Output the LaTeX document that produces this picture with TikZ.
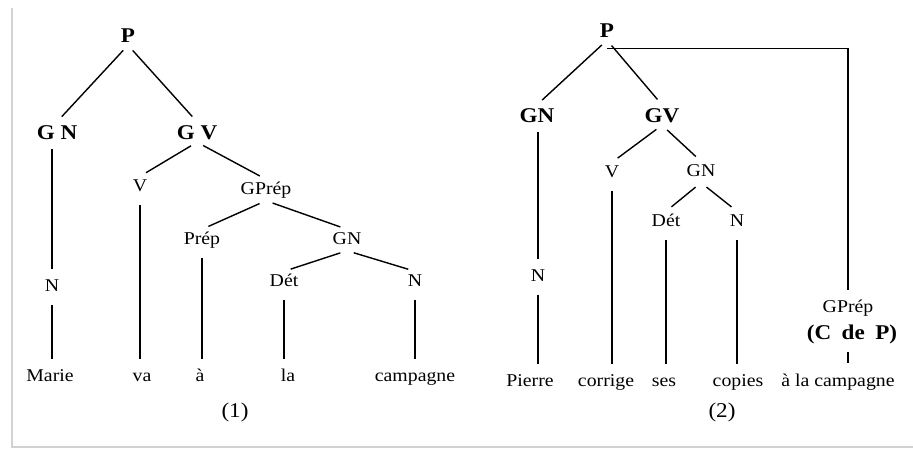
\documentclass[tikz,border=0pt]{standalone}
\usepackage{fontspec}
\setmainfont[FakeStretch=1.1]{Liberation Serif}

\begin{document}
\begin{tikzpicture}[x=1pt,y=-1pt,
  lab/.style={font=\fontsize{18}{20}\selectfont, text height=12pt, text depth=3pt, inner sep=3pt},
  cat/.style={font=\fontsize{21}{23}\selectfont\bfseries, text height=14pt, text depth=0pt, inner sep=3pt},
  num/.style={font=\fontsize{21}{23}\selectfont, inner sep=2pt},
  edge/.style={line width=1.4pt, shorten <=7pt, shorten >=7pt},
  frame/.style={gray!35, line width=1.5pt}]

\useasboundingbox (0,0) rectangle (913,453);
\draw[frame] (12,8) -- (12,447) -- (913,447);

% tree (1)
\node[cat] (P1) at (128,35) {P};
\node[cat] (GN1) at (57,132) {G N};
\node[cat] (GV1) at (197,132) {G V};
\node[lab] (V1) at (140,187) {V};
\node[lab] (GPrep1) at (266,190) {GPrép};
\node[lab] (Prep1) at (202,240) {Prép};
\node[lab] (GNb1) at (347,240) {GN};
\node[lab] (Det1) at (284,282) {Dét};
\node[lab] (Nb1) at (415,282) {N};
\node[lab] (N1) at (52,287) {N};

\node[lab] (Marie) at (50,377) {Marie};
\node[lab] (va) at (142,377) {va};
\node[lab] (a1) at (200,377) {à};
\node[lab] (la) at (288,377) {la};
\node[lab] (campagne1) at (415,377) {campagne};
\node[num] (num1) at (235,412) {(1)};

% tree (2)
\node[cat] (P2) at (607,30) {P};
\node[cat] (GN2) at (537,115) {GN};
\node[cat] (GV2) at (662,115) {GV};
\node[lab] (V2) at (612,173) {V};
\node[lab] (GNb2) at (701,172) {GN};
\node[lab] (Det2) at (666,222) {Dét};
\node[lab] (Nb2) at (737,222) {N};
\node[lab] (N2) at (538,277) {N};
\node[lab] (GPrep2) at (848,308) {GPrép};
\node[cat] (CdP) at (852,332) {(C\enspace de\enspace P)};

\node[lab] (Pierre) at (530,382) {Pierre};
\node[lab] (corrige) at (606,382) {corrige};
\node[lab] (ses) at (664,382) {ses};
\node[lab] (copies) at (738,382) {copies};
\node[lab] (alacampagne) at (838,382) {à la campagne};
\node[num] (num2) at (722,412) {(2)};

\foreach \a/\b in {P1/GN1, P1/GV1, GV1/V1, GV1/GPrep1, GPrep1/Prep1, GPrep1/GNb1,
                   GNb1/Det1, GNb1/Nb1, P2/GN2, P2/GV2, GV2/V2, GV2/GNb2,
                   GNb2/Det2, GNb2/Nb2}
  \draw[edge] (\a.south) -- (\b.north);

\foreach \x/\u/\v in {N1/GN1/N1, N1/N1/Marie, V1/V1/va, Prep1/Prep1/a1, Det1/Det1/la,
                      Nb1/Nb1/campagne1, N2/GN2/N2, N2/N2/Pierre, V2/V2/corrige,
                      Det2/Det2/ses, Nb2/Nb2/copies}
  \draw[edge] (\x |- \u.south) -- (\x |- \v.north);

\draw[line width=1.2pt, shorten <=10pt, shorten >=8pt] (GPrep2 |- CdP.south) -- (GPrep2 |- alacampagne.north);
\draw[line width=1.1pt, shorten >=7pt] ([yshift=-8pt]P2.south) -- ([yshift=-8pt]P2.south -| GPrep2) -- (GPrep2.north);

\end{tikzpicture}
\end{document}
